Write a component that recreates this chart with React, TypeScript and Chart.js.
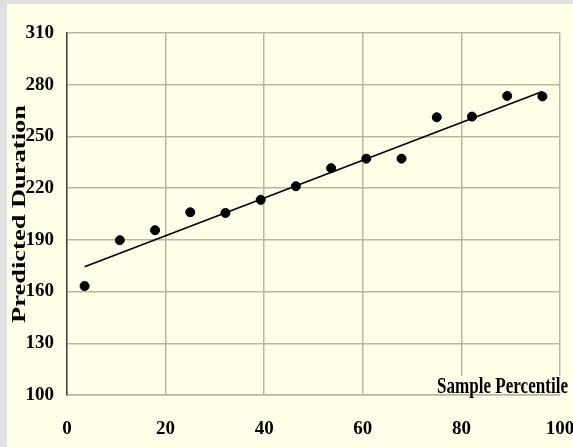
import React, { useEffect, useRef } from "react";
import { Chart, registerables } from "chart.js";

Chart.register(...registerables);

const sampleX = [3.57, 10.71, 17.86, 25, 32.14, 39.29, 46.43, 53.57, 60.71, 67.86, 75, 82.14, 89.29, 96.43];
const predicted = [163.2, 189.8, 195.6, 206, 205.6, 213.2, 221.1, 231.6, 237.1, 237.1, 261.1, 261.5, 273.5, 273.2];
const trendX = [3.57, 96.43];
const trendY = [174.4, 276];
const yTitle = "Predicted Duration";
const xTitle = "Sample Percentile";

const CREAM = "#FFFEE8";
const GRID = "rgb(186,183,160)";
const SERIF = '"Liberation Serif", "Times New Roman", serif';

const bgPlugin = {
  id: "bgPlugin",
  beforeDraw(chart: any) {
    const { ctx, width, height } = chart;
    ctx.save();
    ctx.fillStyle = "#E0E0E0";
    ctx.fillRect(0, 0, width, height);
    ctx.fillStyle = CREAM;
    ctx.fillRect(7, 4, width - 7, height - 4);
    ctx.restore();
  },
  afterDraw(chart: any) {
    const { ctx } = chart;
    ctx.save();
    ctx.font = "bold 18px " + SERIF;
    ctx.fillStyle = "#000";
    const w = ctx.measureText(yTitle).width;
    ctx.translate(25, 214);
    ctx.rotate(-Math.PI / 2);
    ctx.scale(218 / w, 1);
    ctx.textAlign = "center";
    ctx.textBaseline = "alphabetic";
    ctx.fillText(yTitle, 0, 0);
    ctx.restore();
    ctx.save();
    ctx.font = "bold 23px " + SERIF;
    const w2 = ctx.measureText(xTitle).width;
    ctx.fillStyle = CREAM;
    ctx.fillRect(436, 376, 134, 18);
    ctx.fillStyle = "#000";
    ctx.translate(437, 393);
    ctx.scale(131 / w2, 1);
    ctx.textAlign = "left";
    ctx.textBaseline = "alphabetic";
    ctx.fillText(xTitle, 0, 0);
    ctx.restore();
  },
};

export default function App() {
  const ref = useRef<HTMLCanvasElement>(null);
  useEffect(() => {
    const prevMargin = document.body.style.margin;
    document.body.style.margin = "0";
    const chart = new Chart(ref.current as HTMLCanvasElement, {
      type: "scatter",
      data: {
        datasets: [
          {
            type: "line",
            data: trendX.map((x, i) => ({ x, y: trendY[i] })),
            borderColor: "#000",
            borderWidth: 1.6,
            pointRadius: 0,
            fill: false,
          } as any,
          {
            data: sampleX.map((x, i) => ({ x, y: predicted[i] })),
            backgroundColor: "#000",
            borderColor: "#000",
            pointRadius: 4.5,
            pointHoverRadius: 4.5,
          },
        ],
      },
      options: {
        animation: false,
        responsive: false,
        events: [],
        layout: { padding: { left: 0, top: 33, right: 13, bottom: 0 } },
        plugins: { legend: { display: false }, tooltip: { enabled: false } },
        scales: {
          x: {
            type: "linear",
            min: 0,
            max: 100,
            ticks: {
              stepSize: 20,
              padding: 23,
              color: "#000",
              font: { family: SERIF, size: 19, weight: "bold" },
              maxRotation: 0,
            },
            grid: { color: GRID, lineWidth: 1.5, drawTicks: false },
            border: { color: GRID, width: 1.5 },
            afterFit(scale: any) {
              scale.height = 52;
              scale.paddingLeft = 0;
              scale.paddingRight = 0;
            },
          },
          y: {
            type: "linear",
            min: 100,
            max: 310,
            ticks: {
              stepSize: 30,
              padding: 13,
              color: "#000",
              font: { family: SERIF, size: 19, weight: "bold" },
            },
            grid: { color: GRID, lineWidth: 1.5, drawTicks: false },
            border: { color: "#444", width: 1.5 },
            afterFit(scale: any) {
              scale.width = 67;
              scale.paddingTop = 0;
              scale.paddingBottom = 0;
            },
          },
        },
      },
      plugins: [bgPlugin],
    });
    return () => {
      chart.destroy();
      document.body.style.margin = prevMargin;
    };
  }, []);
  return (
    <div style={{ width: 573, height: 447 }}>
      <canvas ref={ref} width={573} height={447} style={{ display: "block" }} />
    </div>
  );
}
